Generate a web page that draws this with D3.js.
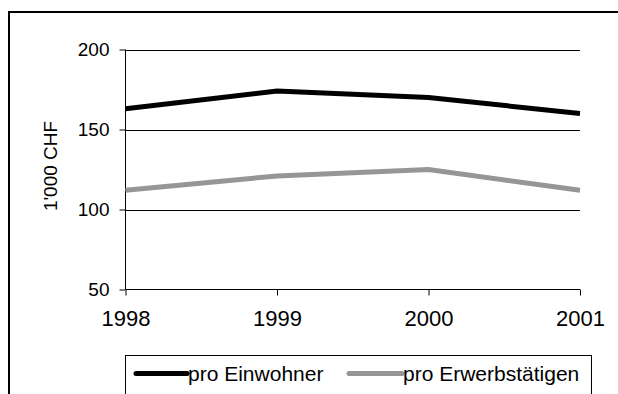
<!DOCTYPE html>
<html>
<head>
<meta charset="utf-8">
<script src="https://cdn.jsdelivr.net/npm/d3@7"></script>
<style>
  html, body { margin: 0; padding: 0; background: #fff; }
  svg { display: block; font-family: "Liberation Sans", Arial, sans-serif; }
</style>
</head>
<body>
<svg id="chart" width="618" height="394"></svg>
<script>
// Data
const years = ["1998", "1999", "2000", "2001"];
const proEinwohner = [163, 174, 170, 160];
const proErwerbstaetigen = [112, 121, 125, 112];
const yTicks = [50, 100, 150, 200];
const seriesNames = ["pro Einwohner", "pro Erwerbstätigen"];
const seriesColors = ["#000000", "#969696"];
const yTitle = "1'000 CHF";

const svg = d3.select("#chart");

// Chart frame (runs past the right and bottom edges)
svg.append("rect")
  .attr("x", 9).attr("y", 12)
  .attr("width", 640).attr("height", 420)
  .attr("fill", "#fff").attr("stroke", "#000").attr("stroke-width", 2);

const plot = { left: 125.5, right: 580, top: 49.5, bottom: 289.5 };

const x = d3.scalePoint().domain(years).range([plot.left, plot.right]);
const y = d3.scaleLinear().domain([50, 200]).range([plot.bottom, plot.top]);

// Horizontal gridlines
svg.append("g")
  .selectAll("line")
  .data(yTicks.filter(t => t !== 50))
  .join("line")
  .attr("x1", plot.left).attr("x2", plot.right)
  .attr("y1", d => Math.round(y(d)) + 0.5).attr("y2", d => Math.round(y(d)) + 0.5)
  .attr("stroke", "#000").attr("stroke-width", 1);

// Y axis
const yAxis = svg.append("g")
  .attr("transform", `translate(${plot.left},0)`)
  .call(d3.axisLeft(y).tickValues(yTicks).tickSize(6).tickPadding(10).tickFormat(d3.format("d")));
yAxis.select(".domain").attr("stroke", "#000").attr("d", `M0,${plot.top}V${plot.bottom}`);
yAxis.selectAll(".tick line").attr("stroke", "#000");
yAxis.selectAll(".tick text")
  .attr("font-size", 19).attr("fill", "#000")
  .attr("font-family", "Liberation Sans, Arial, sans-serif");

// X axis
const xAxis = svg.append("g")
  .attr("transform", `translate(0,${plot.bottom})`)
  .call(d3.axisBottom(x).tickSize(6).tickPadding(15));
xAxis.select(".domain").attr("stroke", "#000").attr("d", `M${plot.left},0H${plot.right}`);
xAxis.selectAll(".tick line").attr("stroke", "#000");
xAxis.selectAll(".tick text")
  .attr("font-size", 22).attr("fill", "#000")
  .attr("font-family", "Liberation Sans, Arial, sans-serif");

// Y axis title
svg.append("text")
  .attr("transform", `translate(57,166) rotate(-90)`)
  .attr("text-anchor", "middle")
  .attr("font-size", 19)
  .attr("fill", "#000")
  .text(yTitle);

// Lines
const line = d3.line()
  .x((d, i) => x(years[i]))
  .y(d => y(d));

[proEinwohner, proErwerbstaetigen].forEach((vals, i) => {
  svg.append("path")
    .datum(vals)
    .attr("d", line)
    .attr("fill", "none")
    .attr("stroke", seriesColors[i])
    .attr("stroke-width", 5)
    .attr("stroke-linejoin", "miter");
});

// Legend
const legend = svg.append("g");
legend.append("rect")
  .attr("x", 125.5).attr("y", 355.5)
  .attr("width", 466).attr("height", 60)
  .attr("fill", "#fff").attr("stroke", "#000").attr("stroke-width", 1);

const legendItems = [
  { x1: 136, x2: 187, tx: 188 },
  { x1: 349, x2: 402, tx: 403 }
];
legendItems.forEach((it, i) => {
  legend.append("line")
    .attr("x1", it.x1).attr("x2", it.x2)
    .attr("y1", 373.5).attr("y2", 373.5)
    .attr("stroke", seriesColors[i]).attr("stroke-width", 5)
    .attr("stroke-linecap", "round");
  legend.append("text")
    .attr("x", it.tx).attr("y", 381)
    .attr("font-size", 21)
    .attr("fill", "#000")
    .text(seriesNames[i]);
});
</script>
</body>
</html>
